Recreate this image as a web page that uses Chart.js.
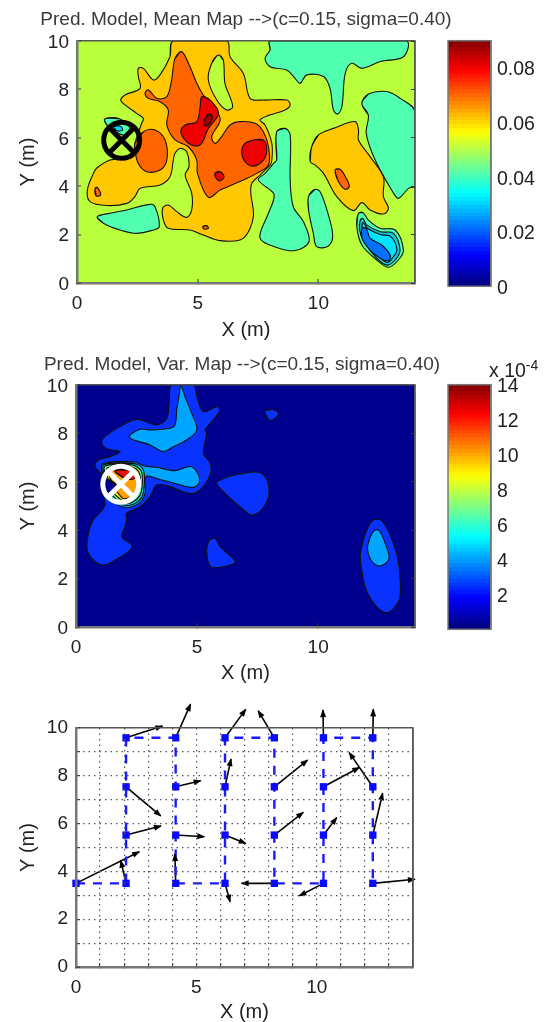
<!DOCTYPE html>
<html lang="en">
<head>
<meta charset="UTF-8" />
<title>Pred. Model maps</title>
<script src="https://cdn.jsdelivr.net/npm/chart.js@4/dist/chart.umd.min.js"></script>
<style>
  html, body { margin: 0; padding: 0; background: #fff; overflow: hidden; }
  body { position: relative; width: 546px; height: 1022px; }
  canvas { position: absolute; filter: blur(0.45px); }
  #expo { position: absolute; left: 489px; top: 358px; font: 19.5px "Liberation Sans", sans-serif; color: #222; line-height: 24px; filter: blur(0.45px); }
  #expo sup { font-size: 14px; line-height: 0; }
</style>
</head>
<body>
<canvas id="mean" width="492" height="345" style="left:0;top:0"></canvas>
<canvas id="meanBar" width="106" height="287" style="left:440px;top:20px"></canvas>
<canvas id="vari" width="484" height="345" style="left:0;top:345px"></canvas>
<canvas id="variBar" width="106" height="286" style="left:440px;top:364px"></canvas>
<canvas id="path" width="546" height="334" style="left:0;top:690px"></canvas>
<div id="expo">x 10<sup>-4</sup></div>
<script>
// mean map contours, [x, y] in metres, painted in this order
const meanYellow = [[3.99,10],[3.85,9.35],[3.44,8.6],[3.16,8.39],[2.75,8.87],[2.54,8.87],[2.54,8.53],[2.61,8.04],[1.99,7.77],[1.81,7.56],[1.99,7.36],[2.47,7.01],[2.75,6.8],[2.68,6.6],[2.4,5.77],[2.33,5.22],[1.37,5.08],[0.81,4.74],[0.68,4.53],[0.43,3.84],[0.54,3.36],[1.23,3.2],[2.06,3.29],[2.4,3.57],[2.61,3.91],[3.44,4.05],[3.85,4.39],[3.99,5.08],[4.06,5.36],[4.27,5.56],[4.54,5.43],[4.64,4.81],[4.48,4.46],[4.75,3.71],[4.75,3.02],[4.54,2.71],[4.13,2.95],[3.78,3.22],[3.55,3.09],[3.58,2.6],[3.78,2.26],[4.68,2.19],[5.23,1.98],[5.93,1.75],[6.75,1.78],[7.1,2.12],[7.31,2.81],[7.2,3.71],[7.24,4.12],[7.58,4.46],[8,4.88],[8.07,5.08],[8.07,5.77],[7.79,6.53],[7.58,6.74],[7.98,6.94],[8.62,7.15],[8.83,7.36],[8.69,7.56],[7.72,7.56],[7.17,7.63],[6.89,8.66],[6.34,9.35],[6.2,10]];
const meanHole = [[5.86,9.42],[6.06,9.21],[6.13,8.25],[6.45,7.29],[6.2,7.15],[5.79,7.56],[5.44,8.39],[5.58,9.08]];
const meanOrangeA = [[2.4,5.77],[2.75,6.25],[3.23,6.32],[3.65,5.91],[3.72,5.08],[3.44,4.67],[2.89,4.6],[2.54,4.94],[2.4,5.5]];
const meanOrangeB = [[4.34,9.56],[4.06,9.28],[3.92,8.39],[3.72,7.7],[3.3,7.63],[2.96,7.98],[2.82,7.84],[2.96,7.63],[3.44,7.49],[3.78,7.15],[3.72,6.53],[4.06,5.91],[4.61,5.63],[4.96,5.08],[4.99,4.53],[5.44,3.54],[5.93,3.84],[6.75,4.19],[7.44,4.53],[7.93,4.88],[7.93,5.63],[7.72,6.25],[7.38,6.6],[6.75,6.67],[6.34,6.53],[5.99,6.05],[5.72,5.77],[5.58,6.05],[5.93,6.74],[5.65,7.29],[5.23,7.77],[4.96,8.25],[4.68,8.94]];
const meanRedA = [[5.17,7.7],[5.51,7.56],[5.86,7.01],[5.44,6.39],[5.17,5.77],[4.89,5.66],[4.54,5.84],[4.3,6.25],[4.48,6.53],[4.96,6.67],[5.1,7.29]];
const meanDarkRed = [[5.48,6.98],[5.61,6.85],[5.44,6.53],[5.26,6.53],[5.3,6.8]];
const meanRedB = [[7.31,5.91],[7.72,5.91],[7.86,5.5],[7.72,5.08],[7.31,4.83],[6.96,5.01],[6.82,5.43],[6.96,5.77]];
const meanRedC = [[5.72,4.53],[5.93,4.6],[6.09,4.39],[5.93,4.23],[5.76,4.33]];
const meanOrangeC = [[0.75,3.91],[0.84,3.95],[0.98,3.64],[0.79,3.6]];
const meanOrangeD = [[5.21,2.33],[5.37,2.37],[5.44,2.26],[5.26,2.23]];
const meanAquaTop = [[8,10],[8,9.63],[7.79,9.28],[8,8.94],[8.69,8.8],[9.03,8.46],[9.24,8.25],[9.52,8.6],[10.21,8.53],[10.48,8.04],[10.62,7.15],[10.79,6.98],[10.97,7.29],[11.11,8.66],[11.38,9.08],[11.8,8.87],[12.56,9.15],[13.52,9.35],[13.64,10]];
const meanAquaRight = [[11.8,7.42],[12.07,7.81],[12.83,7.91],[13.39,7.63],[14,7.08],[14,4.01],[13.73,3.91],[13.32,3.5],[13.11,3.71],[12.35,5.08],[11.98,6.18],[12.07,6.94]];
const meanAquaLeft = [[0.84,2.74],[1.37,2.88],[2.06,3.02],[3.02,3.25],[3.23,3.15],[3.41,2.33],[3.16,2.19],[2.47,2.05],[1.78,2.19],[1.09,2.47]];
const meanAquaMid = [[8.27,6.25],[8.62,6.39],[8.83,6.12],[8.83,4.26],[8.96,3.15],[9.38,2.53],[9.61,1.71],[9.03,1.34],[8.27,1.47],[7.58,1.85],[7.93,2.88],[8.14,3.43],[8.14,3.71],[7.51,4.26],[7.79,4.53],[8.14,4.94],[8.27,5.08]];
const meanAquaNarrow = [[9.59,3.57],[9.86,3.87],[10.07,3.77],[10.35,3.02],[10.59,1.98],[10.41,1.53],[9.93,1.5],[9.79,2.05],[9.59,3.02]];
const meanYellowRight = [[9.72,5.63],[10,6.12],[10.62,6.39],[11.52,6.67],[11.66,6.32],[11.66,5.91],[12.14,5.22],[12.69,4.39],[12.69,3.57],[12.9,3.09],[12.69,2.85],[12.14,3.02],[11.8,3.32],[11.45,2.99],[10.76,3.57],[10.21,4.53],[9.86,4.88],[9.66,5.01]];
const meanOrangeE = [[10.69,4.67],[10.9,4.7],[11.15,4.33],[11.28,3.98],[11.1,3.87],[10.83,4.19]];
const meanDipOuter = [[11.66,2.88],[11.84,2.91],[12.07,2.6],[12.56,2.26],[13.18,2.19],[13.52,1.36],[13.31,0.95],[12.9,0.65],[12.42,0.95],[11.8,1.57],[11.59,2.33]];
const meanDipTeal = [[11.73,2.6],[11.84,2.67],[12,2.4],[12.56,2.12],[13.11,2.05],[13.38,1.36],[13.18,0.95],[12.83,0.74],[12.42,1.02],[11.93,1.64],[11.7,2.19]];
const meanDipCyan = [[11.84,2.5],[12.04,2.25],[12.56,2],[13,1.92],[13.25,1.36],[13.05,1.02],[12.83,0.85],[12.45,1.15],[12,1.72],[11.8,2.2]];
const meanDipBlue = [[11.8,2.26],[11.98,2.26],[12.14,1.85],[12.62,1.57],[12.97,1.16],[12.9,0.92],[12.56,1.02],[12.14,1.36],[11.8,1.85]];
const meanSpotAqua = [[1.15,6.78],[1.78,6.78],[2.2,6.39],[2,6.1],[1.5,6.3],[1.25,6.5]];
const meanSpotCyan = [[1.51,6.46],[1.78,6.49],[1.89,6.32],[1.64,6.29]];

const meanShapes = [meanYellow, meanHole, meanOrangeA, meanOrangeB, meanRedA, meanDarkRed, meanRedB, meanRedC, meanOrangeC, meanOrangeD, meanAquaTop, meanAquaRight, meanAquaLeft, meanAquaMid, meanAquaNarrow, meanYellowRight, meanOrangeE, meanDipOuter, meanDipTeal, meanDipCyan, meanDipBlue, meanSpotAqua, meanSpotCyan];
const meanColors = ['#ffc800', '#b9ff3c', '#ff6600', '#ff6600', '#ee0000', '#a00000', '#ee0000', '#ee0000', '#ff6600', '#ff6600', '#50ffb0', '#50ffb0', '#50ffb0', '#50ffb0', '#50ffb0', '#ffc800', '#ff6600', '#50ffb0', '#14c8d8', '#00e5ff', '#0070ff', '#50ffb0', '#00d8ff'];

// variance map contours
const varBlueMain = [[3.95,10],[3.86,9.38],[3.75,8.62],[3.33,8.35],[2.51,8.58],[1.82,8.28],[1.27,7.93],[1.06,7.66],[1.27,7.38],[1.82,7.25],[1.4,7.04],[0.92,6.9],[0.79,6.63],[1.06,6.28],[1.06,5.66],[1.2,5.04],[0.72,4.42],[0.51,3.87],[0.47,3.18],[0.72,2.77],[1.13,2.56],[1.68,2.8],[2.23,3.18],[2.3,3.39],[1.89,3.73],[2.02,4.15],[2.09,4.42],[2.09,4.7],[2.64,4.97],[3.06,5.39],[3.33,5.87],[3.88,5.8],[4.71,5.52],[5.12,5.66],[5.54,6.28],[5.54,6.76],[5.26,7.18],[5.4,8],[5.33,8.14],[5.92,8.9],[5.84,9.1],[5.26,8.9],[4.99,9.52],[4.85,10]];
const varLightSpire = [[4.33,10],[4.5,9.52],[4.78,8.83],[4.99,8.14],[4.57,7.73],[4.02,7.45],[3.61,7.25],[3.06,7.52],[2.2,7.84],[2.64,8.17],[3.06,8.14],[3.88,8.21],[4.09,8.35],[4.16,8.97],[4.27,9.66]];
const varLightLow = [[1.1,6.74],[2.37,6.83],[2.85,6.65],[3.33,6.6],[4.09,6.46],[4.71,6.63],[4.99,6.42],[5.1,6],[4.85,5.77],[4.16,5.91],[3.33,6.14],[2.89,6.21],[2.85,5.52],[2.64,5.14],[2.16,4.94],[1.68,5.08],[1.27,5.66],[1.1,6.28]];
const varTeal = [[1.15,6.7],[2.35,6.76],[2.78,6.5],[2.78,5.55],[2.58,5.2],[2.16,5.02],[1.7,5.14],[1.3,5.66],[1.15,6.28]];
const varGreen = [[1.2,6.65],[2.3,6.7],[2.7,6.42],[2.7,5.6],[2.5,5.28],[2.14,5.1],[1.75,5.2],[1.35,5.7],[1.2,6.28]];
const varYellow = [[1.3,6.58],[2.25,6.62],[2.62,6.35],[2.62,5.62],[2.42,5.34],[2.1,5.18],[1.8,5.3],[1.4,5.75],[1.3,6.28]];
const varOrange = [[1.4,6.45],[2.2,6.52],[2.55,6.28],[2.52,5.62],[2.32,5.4],[2,5.3],[1.85,5.4],[1.5,5.9]];
const varRed = [[1.61,6.46],[2.44,6.46],[2.44,6.14],[2.02,6.14]];
const varNavy = [[1.1,6.14],[1.71,5.83],[1.4,5.39],[1.13,5.52]];
const varBlueC = [[5.81,5.94],[6.09,6.14],[6.78,6.32],[7.6,6.38],[7.91,6],[7.95,5.39],[7.67,4.86],[7.26,4.63],[6.78,4.97],[6.23,5.45]];
const varBlueD = [[7.81,8.9],[8.09,8.99],[8.36,8.83],[8.15,8.58],[7.95,8.58]];
const varBlueE = [[5.4,3.18],[5.47,3.53],[5.74,3.66],[5.95,3.32],[6.57,2.7],[6.23,2.52],[5.61,2.47],[5.43,2.77]];
const varBlueF = [[11.74,2.9],[11.87,3.6],[12.15,4.28],[12.42,4.45],[12.7,4.31],[13.11,3.46],[13.32,2.63],[13.39,1.32],[13.18,0.84],[12.84,0.59],[12.49,0.77],[12.08,1.32],[11.87,1.94]];
const varLightF = [[12.04,3.31],[12.15,3.73],[12.36,4.01],[12.56,3.94],[12.91,3.04],[12.91,2.77],[12.56,2.52],[12.29,2.63],[12.08,2.98]];

const varShapes = [varBlueMain, varLightSpire, varLightLow, varTeal, varGreen, varYellow, varOrange, varRed, varNavy, varBlueC, varBlueD, varBlueE, varBlueF, varLightF];
const varColors = ['#0a32ff', '#00a5ff', '#00a5ff', '#10d0c8', '#70ff90', '#ffe000', '#ffa000', '#f01000', '#00008f', '#0a32ff', '#0a32ff', '#0a32ff', '#0a32ff', '#00a5ff'];

// sensor path in visit order, with the tip of the arrow drawn from each stop
const stopX = [0,2.08,2.08,2.08,2.08,4.14,4.14,4.14,4.14,6.19,6.19,6.19,6.19,8.24,8.24,8.24,8.24,10.28,10.28,10.28,10.28,12.33,12.33,12.33,12.33];
const stopY = [3.5,3.5,5.52,7.54,9.59,9.59,7.54,5.52,3.5,3.5,5.52,7.54,9.59,9.59,7.54,5.52,3.5,3.5,5.52,7.54,9.59,9.59,7.54,5.52,3.5];
const tipX = [2.63,1.86,3.53,3.52,3.59,4.76,5.18,5.33,4.11,6.4,7.05,6.44,7.05,7.57,9.62,9.44,6.88,9.28,10.83,11.77,10.26,12.35,11.35,12.74,14.08];
const tipY = [4.82,4.45,5.9,6.32,10.08,11,7.79,5.45,4.73,2.73,5.17,8.7,10.78,10.72,8.66,6.47,3.5,2.98,6.25,8.35,10.75,10.78,8.97,7.27,3.67];

const markerPos = [{ x: 1.85, y: 5.9 }];
const meanBarTicks = [0, 0.02, 0.04, 0.06, 0.08];
const varBarTicks = [2, 4, 6, 8, 10, 12, 14];

const FONT = '"Liberation Sans", sans-serif';
Chart.defaults.font.family = FONT;
Chart.defaults.animation = false;
Chart.defaults.events = [];
Chart.defaults.plugins.legend.display = false;
Chart.defaults.plugins.tooltip.enabled = false;

const closed = (p) => [p[p.length - 1], ...p, p[0], p[1]].map(([x, y]) => ({ x, y }));

const shapeSets = (shapes, colors) => shapes.map((p, i) => ({
  data: closed(p),
  showLine: true,
  fill: 'shape',
  tension: 0.35,
  backgroundColor: colors[i],
  borderColor: '#111',
  borderWidth: 1.1,
  pointRadius: 0,
  order: 1000 - i,
}));

const markerSets = (color) => ['circle', 'crossRot'].map((style) => ({
  data: markerPos,
  pointStyle: style,
  pointRadius: 18,
  pointBorderWidth: 5,
  pointBorderColor: color,
  pointBackgroundColor: 'transparent',
  order: 1,
}));

const axis = (cfg) => {
  const isEdge = (c) => c.tick && c.tick.value === cfg.max;
  const isMin = (c) => c.tick && c.tick.value === cfg.min;
  return {
    type: 'linear',
    position: cfg.position,
    min: cfg.min,
    max: cfg.max,
    afterFit: (s) => { cfg.position === 'bottom' ? s.height = cfg.size : s.width = cfg.size },
    border: { color: '#777', width: 2.5, z: 1, dash: (c) => (cfg.dotted && !isEdge(c) ? [1.5, 4] : []) },
    grid: {
      z: 1,
      drawTicks: true,
      tickLength: -4,
      tickColor: '#333',
      tickWidth: 1,
      color: (c) => (isEdge(c) ? '#555' : (cfg.dotted && !isMin(c) ? '#555' : 'transparent')),
      lineWidth: (c) => (isEdge(c) ? 1.6 : (cfg.dotted && !isMin(c) ? 1.2 : 0)),
    },
    ticks: {
      stepSize: cfg.step,
      autoSkip: false,
      maxRotation: 0,
      labelOffset: cfg.labelOffset || 0,
      padding: cfg.position === 'bottom' ? 13 : 12,
      color: '#222',
      font: { size: 19 },
      callback: (v) => (v % cfg.every === 0 ? String(v) : ''),
    },
    title: {
      display: true,
      text: cfg.position === 'bottom' ? 'X (m)' : 'Y (m)',
      color: '#222',
      font: { size: 20 },
      padding: cfg.position === 'bottom' ? { bottom: cfg.titleOffset } : { top: cfg.titleOffset },
    },
  };
};

// spare right axis keeps the plot inside the canvas and adds the inner ticks
const sideAxis = (width, step, dotted) => ({
  type: 'linear',
  axis: 'y',
  position: 'right',
  min: 0,
  max: 10,
  afterFit: (s) => { s.width = width },
  border: { color: '#555', width: 1.6, z: 1 },
  grid: { z: 1, drawOnChartArea: false, drawTicks: !dotted, tickLength: -4, tickColor: '#333' },
  ticks: { display: false, stepSize: step },
});

const mapChart = (id, cfg) => new Chart(document.getElementById(id), {
  type: 'scatter',
  data: { datasets: cfg.datasets },
  plugins: cfg.plugins || [],
  options: {
    responsive: false,
    layout: { padding: { top: cfg.padTop || 0 } },
    plugins: {
      title: {
        display: !!cfg.title,
        text: cfg.title,
        color: '#3a3a3a',
        font: { size: 19, weight: 'normal' },
        padding: { top: 8, bottom: cfg.titleGap },
      },
      backgroundBand: { color: cfg.background },
    },
    scales: {
      x: axis({ position: 'bottom', min: 0, max: 14, step: cfg.xStep, every: 5, size: cfg.xSize, titleOffset: cfg.xTitle, dotted: cfg.dotted }),
      y: axis({ position: 'left', min: 0, max: 10, step: cfg.yStep, every: 2, size: cfg.ySize, titleOffset: 16, dotted: cfg.dotted, labelOffset: cfg.dotted ? 0 : 1.5 }),
      side: sideAxis(cfg.sideSize, cfg.yStep, cfg.dotted),
    },
  },
});

const backgroundBand = {
  id: 'backgroundBand',
  beforeDatasetsDraw(chart, args, opts) {
    if (!opts.color) return;
    const a = chart.chartArea;
    chart.ctx.save();
    chart.ctx.fillStyle = opts.color;
    chart.ctx.fillRect(a.left, a.top, a.width, a.height);
    chart.ctx.restore();
  },
};

// arrow heads sit outside the plot for some stops, where Chart.js skips points
const arrowHeads = {
  id: 'arrowHeads',
  afterDatasetsDraw(chart) {
    const { ctx, scales: { x, y } } = chart;
    ctx.save();
    ctx.fillStyle = '#000';
    tipX.forEach((tx, i) => {
      const px = x.getPixelForValue(tx);
      const py = y.getPixelForValue(tipY[i]);
      const a = Math.atan2(py - y.getPixelForValue(stopY[i]), px - x.getPixelForValue(stopX[i]));
      ctx.save();
      ctx.translate(px, py);
      ctx.rotate(a);
      ctx.beginPath();
      ctx.moveTo(1, 0);
      ctx.lineTo(-7, -3);
      ctx.lineTo(-7, 3);
      ctx.closePath();
      ctx.fill();
      ctx.restore();
    });
    ctx.restore();
  },
};

const barFrame = {
  id: 'barFrame',
  afterDatasetsDraw(chart) {
    const a = chart.chartArea;
    chart.ctx.save();
    chart.ctx.strokeStyle = '#777';
    chart.ctx.lineWidth = 1.5;
    chart.ctx.strokeRect(a.left, a.top, a.width, a.height);
    chart.ctx.restore();
  },
};

const jet = (t) => {
  const c = (v) => Math.round(255 * Math.min(1, Math.max(0, v)));
  return `rgb(${c(1.5 - Math.abs(4 * t - 3))},${c(1.5 - Math.abs(4 * t - 2))},${c(1.5 - Math.abs(4 * t - 1))})`;
};

const colorBar = (id, top, ticks, step) => {
  const levels = 64;
  new Chart(document.getElementById(id), {
    type: 'bar',
    plugins: [barFrame],
    data: {
      labels: [''],
      datasets: Array.from({ length: levels }, (_, i) => ({
        data: [top / levels],
        backgroundColor: jet((i + 0.5) / levels),
        borderWidth: 0,
        inflateAmount: 1,
        barPercentage: 1,
        categoryPercentage: 1,
      })),
    },
    options: {
      responsive: false,
      layout: { padding: { left: 8 } },
      scales: {
        x: { stacked: true, display: false },
        y: {
          stacked: true,
          position: 'right',
          min: 0,
          max: top,
          afterFit: (s) => { s.width = 55 },
          border: { color: '#777', width: 1.5, z: 1 },
          grid: { z: 1, tickLength: -3, tickColor: '#333', lineWidth: 0 },
          ticks: {
            stepSize: step,
            padding: 9,
            labelOffset: 2,
            color: '#222',
            font: { size: 19.5 },
            callback: (v) => (ticks.some((t) => Math.abs(t - v) < 1e-9) ? String(v) : ''),
          },
        },
      },
    },
  });
};

mapChart('mean', {
  title: 'Pred. Model, Mean Map -->(c=0.15, sigma=0.40)',
  titleGap: 10.2,
  background: '#b9ff3c',
  datasets: [...shapeSets(meanShapes, meanColors), ...markerSets('#000')],
  plugins: [backgroundBand],
  xStep: 5, yStep: 2, xSize: 62, ySize: 77, sideSize: 77, xTitle: 3,
});
colorBar('meanBar', 0.09, meanBarTicks, 0.02);

mapChart('vari', {
  title: 'Pred. Model, Var. Map -->(c=0.15, sigma=0.40)',
  titleGap: 9.2,
  background: '#00008f',
  datasets: [...shapeSets(varShapes, varColors), ...markerSets('#fff')],
  plugins: [backgroundBand],
  xStep: 5, yStep: 2, xSize: 63, ySize: 76, sideSize: 69, xTitle: 5,
});
colorBar('variBar', 14, varBarTicks, 2);

mapChart('path', {
  padTop: 38,
  dotted: true,
  datasets: [
    {
      data: stopX.map((x, i) => ({ x, y: stopY[i] })),
      showLine: true,
      borderColor: '#1a1aff',
      borderWidth: 2.4,
      borderDash: [9, 8],
      pointRadius: 5.2,
      pointStyle: 'rect',
      pointBackgroundColor: '#0a0aff',
      pointBorderWidth: 0,
      clip: false,
      order: 1,
    },
    ...tipX.map((tx, i) => ({
      data: [{ x: stopX[i], y: stopY[i] }, { x: tx, y: tipY[i] }],
      showLine: true,
      borderColor: '#000',
      borderWidth: 1.6,
      pointRadius: 0,
      clip: false,
      order: 2,
    })),
  ],
  plugins: [arrowHeads],
  xStep: 1, yStep: 1, xSize: 57, ySize: 76, sideSize: 133, xTitle: 0,
});
</script>
</body>
</html>
